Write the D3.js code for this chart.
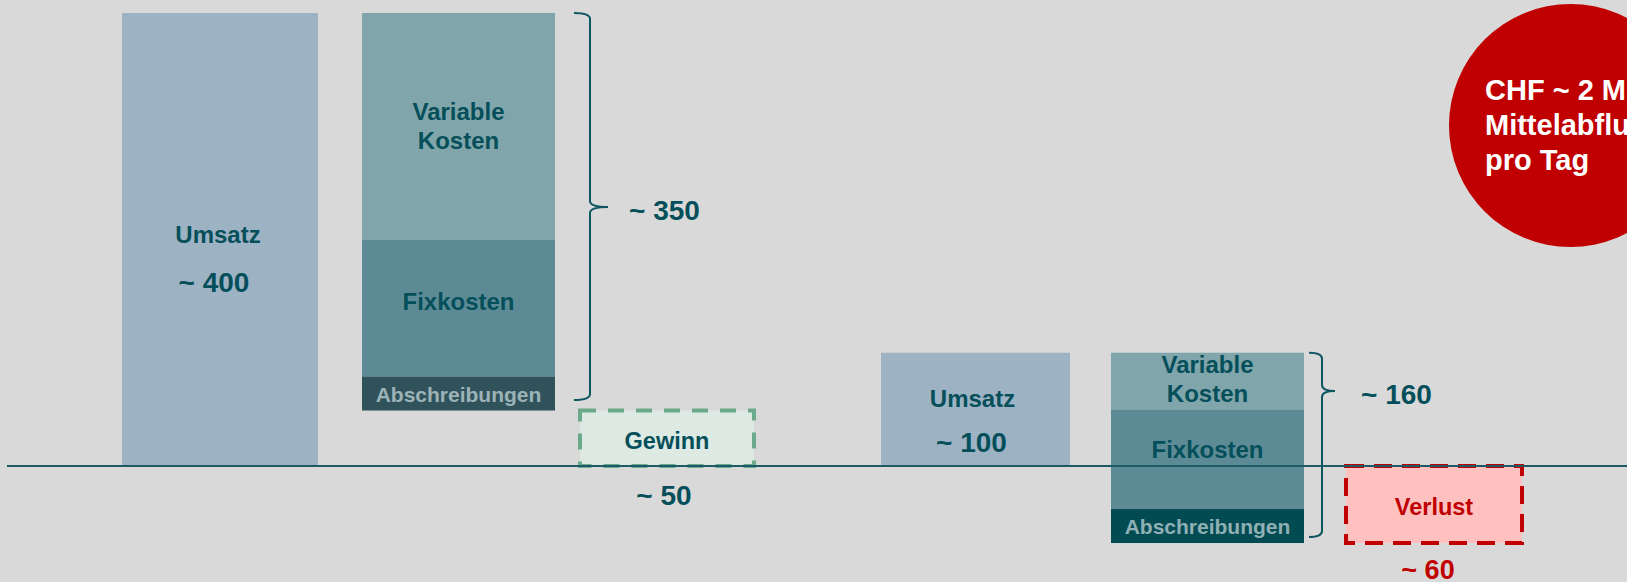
<!DOCTYPE html>
<html><head><meta charset="utf-8">
<script src="https://cdn.jsdelivr.net/npm/d3@7"></script>
<style>html,body{margin:0;padding:0;background:#d9d9d9;overflow:hidden}</style>
</head><body><svg id="c" width="1627" height="582"></svg>
<script>
// ---- data ----
const categories = ["Umsatz A", "Kosten A", "Gewinn", "Umsatz B", "Kosten B", "Verlust"];
const umsatzValues = [400, 100];
const variableKosten = [200, 50];
const fixkosten = [121, 88];
const abschreibungen = [30, 30];
const umsatzLabels = ["~ 400", "~ 100"];
const kostenLabels = ["~ 350", "~ 160"];
const ergebnisLabels = ["~ 50", "~ 60"];
const ergebnisNames = ["Gewinn", "Verlust"];
const calloutLines = ["CHF ~ 2 Mio.", "Mittelabfluss", "pro Tag"];

// ---- layout ----
const W = 1627, H = 582;
const FONT = "'Liberation Sans', Arial, sans-serif";
const TEXT = "#054f5a";
const svg = d3.select("#c");
svg.append("rect").attr("width", W).attr("height", H).attr("fill", "#d9d9d9");

const y = d3.scaleLinear().domain([0, 400]).range([466, 13]);
const xc = d3.scaleOrdinal().domain(categories).range([220, 458.5, 667, 975.5, 1207.5, 1434]);
const bw = d3.scaleOrdinal().domain(categories).range([196, 193, 174, 189, 193, 176]);
const left = c => xc(c) - bw(c) / 2;

function txt(x, yy, s, size, color, anchor) {
  return svg.append("text").attr("x", x).attr("y", yy).text(s)
    .attr("font-family", FONT).attr("font-weight", "bold")
    .attr("font-size", size).attr("fill", color)
    .attr("text-anchor", anchor || "middle");
}

const scen = [0, 1].map(i => {
  const u = umsatzValues[i];
  const v0 = u, v1 = u - variableKosten[i], f1 = v1 - fixkosten[i], a1 = f1 - abschreibungen[i];
  return { i, u, segs: [[v0, v1], [v1, f1], [f1, a1]], res: a1 };
});

const catU = ["Umsatz A", "Umsatz B"], catK = ["Kosten A", "Kosten B"];
const segColors = [["#80a5aa", "#5c8b96", "#30525b"], ["#80a5aa", "#5c8b96", "#024b52"]];
const absText = ["#9cb3b7", "#8fb0b4"];

scen.forEach(s => {
  svg.append("rect").attr("x", left(catU[s.i])).attr("width", bw(catU[s.i]))
    .attr("y", y(s.u)).attr("height", y(0) - y(s.u)).attr("fill", "#9db3c4");
  s.segs.forEach((sg, k) => {
    svg.append("rect").attr("x", left(catK[s.i])).attr("width", bw(catK[s.i]))
      .attr("y", y(sg[0])).attr("height", y(sg[1]) - y(sg[0])).attr("fill", segColors[s.i][k]);
  });
});

// result boxes
const g = scen[0], vl = scen[1];
svg.append("rect").attr("x", left("Gewinn")).attr("width", bw("Gewinn"))
  .attr("y", y(g.res)).attr("height", y(0) - y(g.res))
  .attr("fill", "#dceae3").attr("stroke", "#6aaa8a").attr("stroke-width", 4)
  .attr("stroke-dasharray", "16,12");
svg.append("rect").attr("x", left("Verlust")).attr("width", bw("Verlust"))
  .attr("y", y(0)).attr("height", y(vl.res) - y(0))
  .attr("fill", "#ffc0c0").attr("stroke", "#c00000").attr("stroke-width", 4)
  .attr("stroke-dasharray", "18,10");

// baseline
svg.append("line").attr("x1", 7).attr("x2", W).attr("y1", y(0)).attr("y2", y(0))
  .attr("stroke", "#1d5a66").attr("stroke-width", 2);

// braces
function brace(x0, x1, tip, top, mid, bottom, r) {
  return `M${x0},${top} Q${x1},${top} ${x1},${top + r} L${x1},${mid - r} Q${x1},${mid} ${tip},${mid} ` +
         `M${tip},${mid} Q${x1},${mid} ${x1},${mid + r} L${x1},${bottom - r} Q${x1},${bottom} ${x0},${bottom}`;
}
svg.append("path").attr("d", brace(574, 590, 608, y(scen[0].u), 207, 400, 6))
  .attr("fill", "none").attr("stroke", "#0d5560").attr("stroke-width", 2);
svg.append("path").attr("d", brace(1309, 1322, 1335, y(scen[1].u), 391, 537, 6))
  .attr("fill", "none").attr("stroke", "#0d5560").attr("stroke-width", 2);

// labels left scenario
txt(xc("Umsatz A") - 2, 243, "Umsatz", 24, TEXT);
txt(xc("Umsatz A") - 6, 292, umsatzLabels[0], 28, TEXT);
txt(xc("Kosten A"), 120, "Variable", 24, TEXT);
txt(xc("Kosten A"), 149, "Kosten", 24, TEXT);
txt(xc("Kosten A"), 310, "Fixkosten", 24, TEXT);
txt(xc("Kosten A"), 402, "Abschreibungen", 21, absText[0]);
txt(629, 220, kostenLabels[0], 28, TEXT, "start");
txt(xc("Gewinn"), 449, ergebnisNames[0], 23.5, TEXT);
txt(xc("Gewinn") - 3, 505, ergebnisLabels[0], 28, TEXT);

// labels right scenario
txt(xc("Umsatz B") - 3, 407, "Umsatz", 24, TEXT);
txt(xc("Umsatz B") - 4, 452, umsatzLabels[1], 28, TEXT);
txt(xc("Kosten B"), 373, "Variable", 24, TEXT);
txt(xc("Kosten B"), 402, "Kosten", 24, TEXT);
txt(xc("Kosten B"), 458, "Fixkosten", 24, TEXT);
txt(xc("Kosten B"), 534, "Abschreibungen", 21, absText[1]);
txt(1361, 404, kostenLabels[1], 28, TEXT, "start");
txt(xc("Verlust"), 515, ergebnisNames[1], 23.5, "#c00000");
txt(xc("Verlust") - 6, 579, ergebnisLabels[1], 27, "#c00000");

// callout circle
svg.append("circle").attr("cx", 1570.5).attr("cy", 125.5).attr("r", 121.5).attr("fill", "#c00000");
calloutLines.forEach((l, i) => txt(1485, 99.5 + i * 35, l, 29, "#ffffff", "start"));
</script></body></html>
